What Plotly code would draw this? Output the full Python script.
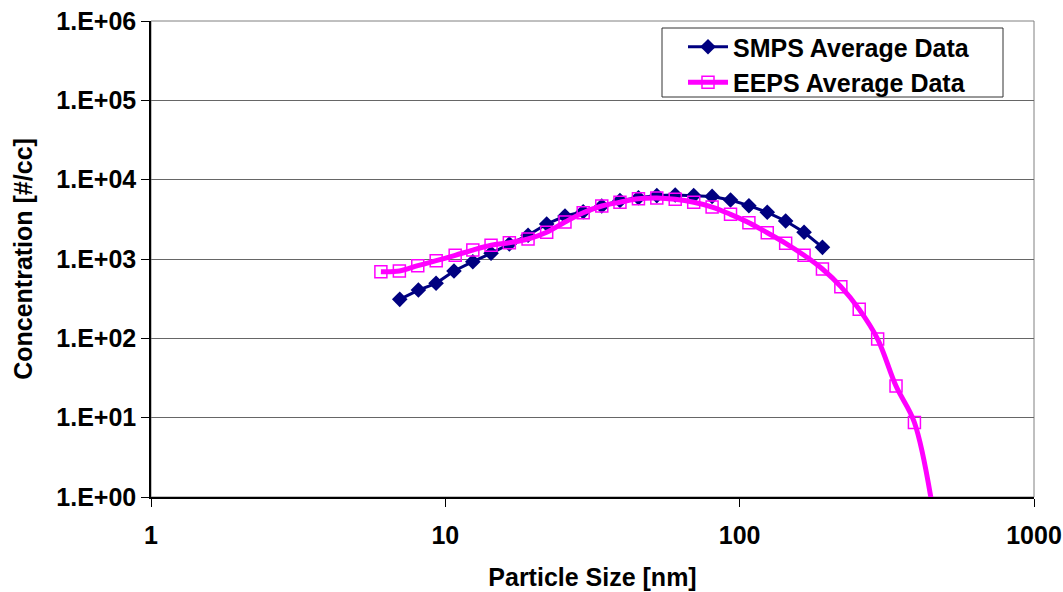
import plotly.graph_objects as go

smps_size = [7.0, 8.1, 9.3, 10.7, 12.4, 14.3, 16.5, 19.1, 22.1, 25.5, 29.4, 34.0,
             39.2, 45.3, 52.3, 60.4, 69.8, 80.6, 93.1, 107.5, 124.1, 143.3, 165.5, 191.1]
smps_conc = [310, 406, 494, 706, 925, 1180, 1546, 1990, 2763, 3483, 3945, 4656,
             5460, 5925, 6300, 6400, 6300, 6150, 5545, 4700, 3880, 3015, 2173, 1403]

eeps_size = [6.04, 6.98, 8.06, 9.31, 10.8, 12.4, 14.3, 16.5, 19.1, 22.1, 25.5, 29.4,
             34.0, 39.2, 45.3, 52.3, 60.4, 69.8, 80.6, 93.1, 107.5, 124.1, 143.3,
             165.5, 191.1, 220.7, 254.8, 294.3, 339.8, 392.4, 453.2]
eeps_conc = [692, 706, 823, 952, 1112, 1297, 1489, 1604, 1786, 2172, 2926, 3836,
             4656, 5200, 5740, 5876, 5650, 5185, 4520, 3656, 2866, 2142, 1578,
             1115, 748, 448, 232, 98, 25, 8.7, 0.7]

x_ticks = [1, 10, 100, 1000]
x_tick_text = ["1", "10", "100", "1000"]
y_ticks = [1, 10, 100, 1000, 10000, 100000, 1000000]
y_tick_text = ["1.E+00", "1.E+01", "1.E+02", "1.E+03", "1.E+04", "1.E+05", "1.E+06"]

FONT = "Liberation Sans, Arial, sans-serif"
W, H = 1063, 592
L, R, T, B = 151, 29, 21, 95
PW, PH = W - L - R, H - T - B


def px_x(p):
    return (p - L) / PW


def px_y(p):
    return (H - B - p) / PH


fig = go.Figure()
fig.add_trace(go.Scatter(
    x=smps_size, y=smps_conc, name="SMPS Average Data", mode="lines+markers",
    line=dict(color="#000080", width=3),
    marker=dict(symbol="diamond", size=12, color="#000080"),
))
fig.add_trace(go.Scatter(
    x=eeps_size, y=eeps_conc, name="EEPS Average Data", mode="lines+markers",
    line=dict(color="#FF00FF", width=5, shape="spline", smoothing=1),
    marker=dict(symbol="square-open", size=12, color="#FF00FF", line=dict(width=1.5)),
))

# plot frame (gray top/right)
fig.add_shape(type="rect", xref="paper", yref="paper", x0=0, x1=1, y0=0, y1=1,
              line=dict(color="#808080", width=1), layer="below")
# legend box
fig.add_shape(type="rect", xref="paper", yref="paper",
              x0=px_x(662), x1=px_x(1003), y0=px_y(97), y1=px_y(28),
              line=dict(color="#333333", width=1), fillcolor="white", layer="below")

fig.update_layout(
    width=W, height=H,
    margin=dict(l=L, r=R, t=T, b=B, autoexpand=False),
    paper_bgcolor="white", plot_bgcolor="white",
    font=dict(family=FONT, size=25, color="black", weight="bold"),
    showlegend=True,
    legend=dict(x=px_x(683), xanchor="left", y=px_y(24), yanchor="top",
                borderwidth=0, bgcolor="rgba(0,0,0,0)", itemwidth=40,
                font=dict(family=FONT, size=25, color="black", weight="bold"),
                tracegroupgap=0),
)
fig.update_xaxes(
    type="log", range=[0, 3], tickvals=x_ticks, ticktext=x_tick_text,
    showgrid=False, showline=True, linecolor="black", linewidth=1.5,
    ticks="outside", ticklen=8, tickcolor="black", ticklabelstandoff=7,
    automargin=False,
    title=dict(text="Particle Size [nm]", standoff=21,
               font=dict(family=FONT, size=25, weight="bold")),
    tickfont=dict(family=FONT, size=25, weight="bold"), zeroline=False,
)
fig.update_yaxes(
    type="log", range=[0, 6], tickvals=y_ticks, ticktext=y_tick_text,
    showgrid=True, gridcolor="#666666", gridwidth=1,
    showline=True, linecolor="black", linewidth=1.5,
    ticks="outside", ticklen=8, tickcolor="black", ticklabelstandoff=0,
    automargin=False,
    title=dict(text="Concentration [#/cc]", standoff=17,
               font=dict(family=FONT, size=25, weight="bold")),
    tickfont=dict(family=FONT, size=25, weight="bold"), zeroline=False,
)

fig.write_html("out.html", config={"displayModeBar": False},
               post_script="document.body.style.margin='0px';document.body.style.overflow='hidden';")
